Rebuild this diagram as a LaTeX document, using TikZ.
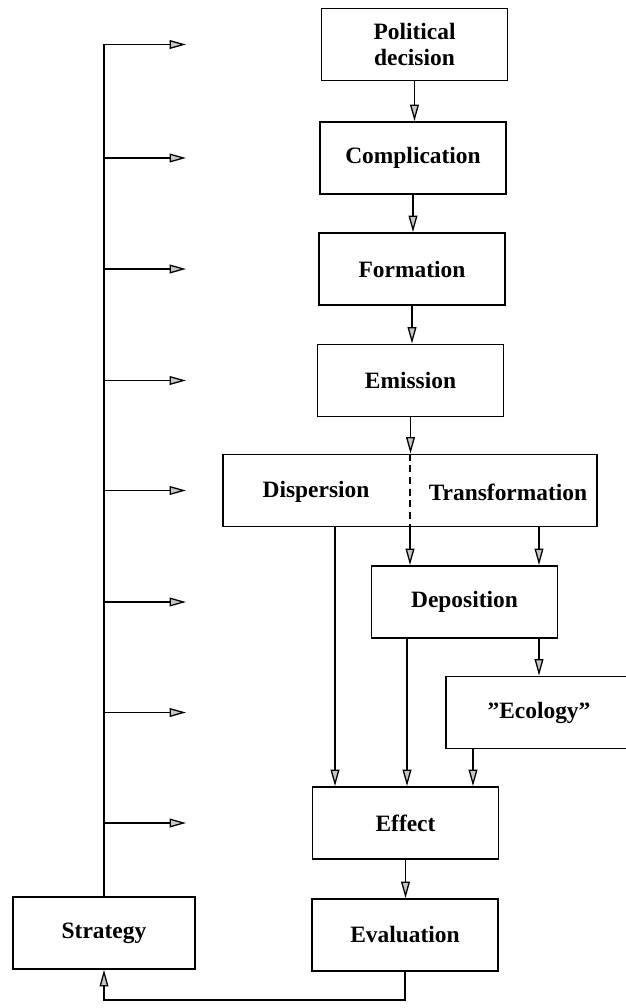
\documentclass[tikz,border=0pt]{standalone}
\usepackage{fontspec}
\setmainfont{Liberation Serif}
\usetikzlibrary{arrows.meta}

\tikzset{
  stage/.style={draw, line width=1.6pt, minimum width=5.58cm, minimum height=2.16cm,
    inner sep=2pt, align=center, font=\fontsize{20}{22}\selectfont\bfseries},
  label/.style={inner sep=0pt, font=\fontsize{20}{22}\selectfont\bfseries},
  flow/.style={line width=1.1pt, -{Triangle[length=14pt, width=7.5pt, fill=gray!45]}},
  split/.style={line width=1.1pt, dash pattern=on 6pt off 4pt}
}

\begin{document}
\begin{tikzpicture}[x=0.03cm, y=-0.03cm]
  \clip (0,0) rectangle (626,1008);

  % main chain
  \node [stage] (pol)  at (414.5,44.5) {Political\\decision};
  \node [stage] (comp) at (413,158)    {Complication};
  \node [stage] (form) at (412,269)    {Formation};
  \node [stage] (emis) at (410.5,380.5) {Emission};
  \node [stage, minimum width=11.22cm] (disp) at (410,490.5) {};
  \node [label] (dtext) at (316,492) {Dispersion};
  \node [label] (ttext) at (508,492) {Transformation};
  \node [stage] (depo) at (464.5,602)  {Deposition};
  \node [stage] (eco)  at (539,712.5)  {''Ecology''};
  \node [stage] (eff)  at (405.5,823)  {Effect};
  \node [stage] (eval) at (405,935)    {Evaluation};
  \node [stage, minimum width=5.46cm] (strat) at (104,933) {Strategy};

  % columns and ends
  \coordinate (colA) at (335,0);
  \coordinate (colB) at (407,0);
  \coordinate (colC) at (539,0);
  \coordinate (colD) at (473,0);
  \coordinate (tipx) at (186,0);
  \coordinate (bot)  at (0,1000);

  \foreach \a/\b in {pol/comp, comp/form, form/emis, emis/disp, eff/eval}
    \draw [flow] (\a.south) -- (\a.south |- \b.north);

  \draw [split] (disp.north) -- (disp.south);

  \draw [flow] (disp.south -| colA) -- (colA |- eff.north);
  \draw [flow] (disp.south) -- (disp.south |- depo.north);
  \draw [flow] (disp.south -| colC) -- (colC |- depo.north);
  \draw [flow] (depo.south -| colB) -- (colB |- eff.north);
  \draw [flow] (depo.south -| colC) -- (colC |- eco.north);
  \draw [flow] (eco.south -| colD) -- (colD |- eff.north);

  % feedback to the strategy and back up
  \draw [flow] (eval.south) -- (eval.south |- bot) -| (strat.south);
  \draw [flow] (strat.north) |- (tipx |- pol);
  \foreach \b in {comp, form, emis, disp, depo, eco, eff}
    \draw [flow] (strat.north |- \b) -- (tipx |- \b);
\end{tikzpicture}
\end{document}
